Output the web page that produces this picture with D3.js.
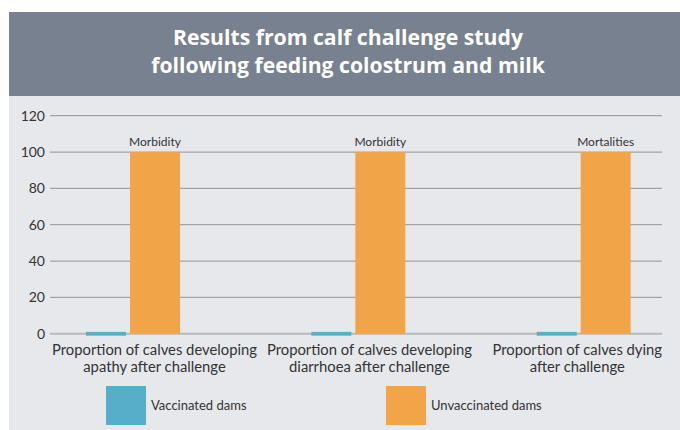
<!DOCTYPE html>
<html>
<head>
<meta charset="utf-8">
<script src="https://cdn.jsdelivr.net/npm/d3@7"></script>
<style>
  body { margin: 0; background: #fff; }
  svg { display: block; font-family: Lato, "Open Sans", sans-serif; }
</style>
</head>
<body>
<div class="chart"></div>
<script>
// chart data
var categories = [
  ["Proportion of calves developing", "apathy after challenge"],
  ["Proportion of calves developing", "diarrhoea after challenge"],
  ["Proportion of calves dying", "after challenge"]
];
var seriesNames = ["Vaccinated dams", "Unvaccinated dams"];
var vaccinated = [1, 1, 1];
var unvaccinated = [100, 100, 100];
var barNotes = ["Morbidity", "Morbidity", "Mortalities"];
var yTicks = [0, 20, 40, 60, 80, 100, 120];
var titleLines = ["Results from calf challenge study", "following feeding colostrum and milk"];

var width = 680,
    height = 430;

// look of the two series (kept apart from the data)
var seriesStyle = [
  {color: "#57aec8", offset: 66, width: 40},
  {color: "#f2a548", offset: 110, width: 50}
];

var svg = d3.select(".chart").append("svg")
    .attr("width", width)
    .attr("height", height);

// header band + body panel
svg.append("rect")
    .attr("x", 9).attr("y", 12)
    .attr("width", width - 9).attr("height", 84)
    .attr("fill", "#77818f");
svg.append("rect")
    .attr("x", 9).attr("y", 96)
    .attr("width", width - 9).attr("height", height - 96)
    .attr("fill", "#e7e8ec");

svg.append("text")
    .attr("x", 348)
    .attr("y", 45)
    .attr("text-anchor", "middle")
    .attr("fill", "#fff")
    .attr("font-family", "'Open Sans', sans-serif")
    .attr("font-size", 21.2)
    .attr("font-weight", "bold")
  .selectAll("tspan")
    .data(titleLines)
  .enter().append("tspan")
    .attr("x", 348)
    .attr("dy", function(d, i) { return i ? 28 : 0; })
    .text(function(d) { return d; });

// scales
var plotLeft = 50, plotRight = 662;
var y = d3.scaleLinear().domain([0, 120]).range([333.7, 115.7]);
var x0 = d3.scaleBand().domain(d3.range(categories.length)).range([20, 696]);

// gridlines
var g = svg.append("g");
g.selectAll(".grid")
    .data(yTicks)
  .enter().append("line")
    .attr("x1", plotLeft).attr("x2", plotRight)
    .attr("y1", function(d) { return y(d); })
    .attr("y2", function(d) { return y(d); })
    .attr("stroke", function(d) { return d === 0 ? "#b9b9bd" : "#a3a3a7"; })
    .attr("stroke-width", function(d) { return d === 0 ? 2 : 1.3; });

// y axis labels (axis without the domain line)
var yAxis = g.append("g")
    .attr("transform", "translate(45,0)")
    .call(d3.axisLeft(y).tickValues(yTicks).tickSize(0).tickPadding(0));
yAxis.select(".domain").remove();
yAxis.selectAll("text")
    .attr("font-family", "Lato, sans-serif")
    .attr("font-size", 14)
    .attr("fill", "#333");

// bars
var allSeries = [vaccinated, unvaccinated];
allSeries.forEach(function(values, s) {
  var st = seriesStyle[s];
  g.selectAll(".bar" + s)
      .data(values)
    .enter().append("rect")
      .attr("x", function(d, i) { return x0(i) + st.offset; })
      .attr("width", st.width)
      .attr("y", function(d) { return y(d); })
      .attr("height", function(d) { return y(0) - y(d) + (d < 5 ? 2 : 0); })
      .attr("fill", st.color);
});

// notes above orange bars
g.selectAll(".note")
    .data(barNotes)
  .enter().append("text")
    .attr("x", function(d, i) { return x0(i) + seriesStyle[1].offset + seriesStyle[1].width / 2; })
    .attr("y", function(d, i) { return y(unvaccinated[i]) - 6; })
    .attr("text-anchor", "middle")
    .attr("font-size", 12)
    .attr("fill", "#333")
    .text(function(d) { return d; });

// category labels, kept inside the plot and apart from each other
var lastRight = -Infinity;
categories.forEach(function(lines, i) {
  var center = x0(i) + (seriesStyle[0].offset + seriesStyle[1].offset + seriesStyle[1].width) / 2;
  var t = g.append("text")
      .attr("text-anchor", "middle")
      .attr("font-size", 14.8)
      .attr("fill", "#333");
  var spans = t.selectAll("tspan")
      .data(lines)
    .enter().append("tspan")
      .attr("dy", function(d, j) { return j ? 17 : 0; })
      .text(function(d) { return d; });
  var w = d3.max(spans.nodes(), function(n) { return n.getComputedTextLength(); });
  var left = center - w / 2;
  if (left < plotLeft + 2) left = plotLeft + 2;
  if (left + w > plotRight) left = plotRight - w;
  if (left < lastRight + 10) left = lastRight + 10;
  lastRight = left + w;
  t.attr("y", 355);
  spans.attr("x", left + w / 2);
});

// legend
var legend = svg.selectAll(".legend")
    .data(seriesNames)
  .enter().append("g")
    .attr("transform", function(d, i) { return "translate(" + (106 + i * 280) + ",386)"; });
legend.append("rect")
    .attr("width", 40).attr("height", 39)
    .attr("fill", function(d, i) { return seriesStyle[i].color; });
legend.append("text")
    .attr("x", 45)
    .attr("y", 24)
    .attr("font-size", 13)
    .attr("fill", "#333")
    .text(function(d) { return d; });
</script>
</body>
</html>
